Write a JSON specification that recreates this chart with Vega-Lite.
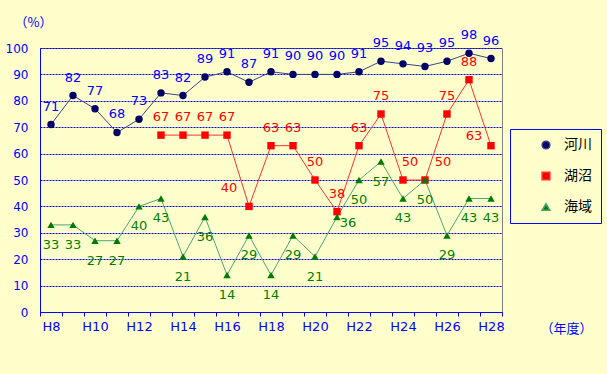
{
  "$schema": "https://vega.github.io/schema/vega-lite/v6.json",
  "width": 462,
  "height": 264,
  "autosize": {"type": "none"},
  "padding": {"left": 40, "top": 48, "right": 105, "bottom": 62},
  "background": "#ffffcc",
  "config": {
    "view": {"stroke": "#808080", "strokeWidth": 1, "fill": "#ffffcc"},
    "font": "DejaVu Sans"
  },
  "data": {
    "values": [
      {"year": "H8", "series": "河川", "value": 71},
      {"year": "H9", "series": "河川", "value": 82},
      {"year": "H10", "series": "河川", "value": 77},
      {"year": "H11", "series": "河川", "value": 68},
      {"year": "H12", "series": "河川", "value": 73},
      {"year": "H13", "series": "河川", "value": 83},
      {"year": "H14", "series": "河川", "value": 82},
      {"year": "H15", "series": "河川", "value": 89},
      {"year": "H16", "series": "河川", "value": 91},
      {"year": "H17", "series": "河川", "value": 87},
      {"year": "H18", "series": "河川", "value": 91},
      {"year": "H19", "series": "河川", "value": 90},
      {"year": "H20", "series": "河川", "value": 90},
      {"year": "H21", "series": "河川", "value": 90},
      {"year": "H22", "series": "河川", "value": 91},
      {"year": "H23", "series": "河川", "value": 95},
      {"year": "H24", "series": "河川", "value": 94},
      {"year": "H25", "series": "河川", "value": 93},
      {"year": "H26", "series": "河川", "value": 95},
      {"year": "H27", "series": "河川", "value": 98},
      {"year": "H28", "series": "河川", "value": 96},
      {"year": "H13", "series": "湖沼", "value": 67},
      {"year": "H14", "series": "湖沼", "value": 67},
      {"year": "H15", "series": "湖沼", "value": 67},
      {"year": "H16", "series": "湖沼", "value": 67},
      {"year": "H17", "series": "湖沼", "value": 40},
      {"year": "H18", "series": "湖沼", "value": 63},
      {"year": "H19", "series": "湖沼", "value": 63},
      {"year": "H20", "series": "湖沼", "value": 50},
      {"year": "H21", "series": "湖沼", "value": 38},
      {"year": "H22", "series": "湖沼", "value": 63},
      {"year": "H23", "series": "湖沼", "value": 75},
      {"year": "H24", "series": "湖沼", "value": 50},
      {"year": "H25", "series": "湖沼", "value": 50},
      {"year": "H26", "series": "湖沼", "value": 75},
      {"year": "H27", "series": "湖沼", "value": 88},
      {"year": "H28", "series": "湖沼", "value": 63},
      {"year": "H8", "series": "海域", "value": 33},
      {"year": "H9", "series": "海域", "value": 33},
      {"year": "H10", "series": "海域", "value": 27},
      {"year": "H11", "series": "海域", "value": 27},
      {"year": "H12", "series": "海域", "value": 40},
      {"year": "H13", "series": "海域", "value": 43},
      {"year": "H14", "series": "海域", "value": 21},
      {"year": "H15", "series": "海域", "value": 36},
      {"year": "H16", "series": "海域", "value": 14},
      {"year": "H17", "series": "海域", "value": 29},
      {"year": "H18", "series": "海域", "value": 14},
      {"year": "H19", "series": "海域", "value": 29},
      {"year": "H20", "series": "海域", "value": 21},
      {"year": "H21", "series": "海域", "value": 36},
      {"year": "H22", "series": "海域", "value": 50},
      {"year": "H23", "series": "海域", "value": 57},
      {"year": "H24", "series": "海域", "value": 43},
      {"year": "H25", "series": "海域", "value": 50},
      {"year": "H26", "series": "海域", "value": 29},
      {"year": "H27", "series": "海域", "value": 43},
      {"year": "H28", "series": "海域", "value": 43}
    ]
  },
  "encoding": {
    "x": {
      "field": "year",
      "type": "ordinal",
      "scale": {
        "type": "band",
        "domain": ["H8","H9","H10","H11","H12","H13","H14","H15","H16","H17","H18","H19","H20","H21","H22","H23","H24","H25","H26","H27","H28"],
        "paddingInner": 0,
        "paddingOuter": 0
      },
      "axis": {
        "title": "（年度）",
        "titleX": 526,
        "titleY": 16,
        "titleAlign": "center",
        "titleBaseline": "middle",
        "titleColor": "#0000ff",
        "titleFont": "Noto Sans CJK JP",
        "titleFontSize": 13,
        "titleFontWeight": "normal",
        "labelExpr": "indexof(['H8','H10','H12','H14','H16','H18','H20','H22','H24','H26','H28'], datum.value) >= 0 ? datum.value : ''",
        "labelAngle": 0,
        "labelColor": "#0000ff",
        "labelFontSize": 13,
        "labelPadding": 4,
        "tickBand": "extent",
        "tickSize": 4,
        "tickColor": "#0000ff",
        "domainColor": "#0000ff",
        "grid": false
      }
    },
    "y": {
      "field": "value",
      "type": "quantitative",
      "scale": {"domain": [0, 100], "nice": false},
      "axis": {
        "title": "（%）",
        "titleAngle": 0,
        "titleX": -7,
        "titleY": -26,
        "titleAlign": "center",
        "titleBaseline": "middle",
        "titleColor": "#0000ff",
        "titleFont": "Noto Sans CJK JP",
        "titleFontSize": 13,
        "titleFontWeight": "normal",
        "values": [0, 10, 20, 30, 40, 50, 60, 70, 80, 90, 100],
        "ticks": false,
        "labelPadding": 12,
        "labelColor": "#0000ff",
        "labelFontSize": 12,
        "domainColor": "#0000ff",
        "grid": true,
        "gridColor": "#0000ff",
        "gridDash": [2, 1],
        "gridWidth": 1
      }
    }
  },
  "layer": [
    {
      "mark": {"type": "line", "strokeWidth": 1},
      "encoding": {
        "color": {
          "field": "series",
          "type": "nominal",
          "scale": {"domain": ["河川", "湖沼", "海域"], "range": ["#404088", "#ff3030", "#4aa57a"]},
          "legend": {
            "title": null,
            "orient": "none",
            "legendX": 470,
            "legendY": 81,
            "strokeColor": "#0000ff",
            "fillColor": "#ffffcc",
            "padding": 9,
            "symbolSize": 60,
            "rowPadding": 17,
            "symbolOffset": 20,
            "labelOffset": 11,
            "labelFont": "Noto Sans CJK JP",
            "labelFontSize": 14,
            "labelColor": "#000000"
          }
        }
      }
    },
    {
      "mark": {"type": "point", "filled": true, "opacity": 1, "size": 55},
      "encoding": {
        "shape": {
          "field": "series",
          "type": "nominal",
          "scale": {"domain": ["河川", "湖沼", "海域"], "range": ["circle", "square", "triangle-up"]},
          "legend": null
        },
        "fill": {
          "field": "series",
          "type": "nominal",
          "scale": {"domain": ["河川", "湖沼", "海域"], "range": ["#000066", "#ff0000", "#007a00"]},
          "legend": null
        }
      }
    },
    {
      "transform": [{"filter": "datum.series === '河川'"}],
      "mark": {"type": "text", "dy": -18, "fontSize": 13, "color": "#0000ff"},
      "encoding": {"text": {"field": "value", "type": "quantitative"}}
    },
    {
      "transform": [{"filter": "datum.series === '湖沼' && indexof(['H17','H24','H25','H28'], datum.year) < 0"}],
      "mark": {"type": "text", "dy": -18, "fontSize": 13, "color": "#ff0000"},
      "encoding": {"text": {"field": "value", "type": "quantitative"}}
    },
    {
      "transform": [{"filter": "datum.series === '湖沼' && datum.year === 'H17'"}],
      "mark": {"type": "text", "dx": -20, "dy": -18, "fontSize": 13, "color": "#ff0000"},
      "encoding": {"text": {"field": "value", "type": "quantitative"}}
    },
    {
      "transform": [{"filter": "datum.series === '湖沼' && datum.year === 'H28'"}],
      "mark": {"type": "text", "dx": -17, "dy": -10, "fontSize": 13, "color": "#ff0000"},
      "encoding": {"text": {"field": "value", "type": "quantitative"}}
    },
    {
      "transform": [{"filter": "datum.series === '湖沼' && datum.year === 'H24'"}],
      "mark": {"type": "text", "dx": 7, "dy": -18, "fontSize": 13, "color": "#ff0000"},
      "encoding": {"text": {"field": "value", "type": "quantitative"}}
    },
    {
      "transform": [{"filter": "datum.series === '湖沼' && datum.year === 'H25'"}],
      "mark": {"type": "text", "dx": 18, "dy": -18, "fontSize": 13, "color": "#ff0000"},
      "encoding": {"text": {"field": "value", "type": "quantitative"}}
    },
    {
      "transform": [{"filter": "datum.series === '海域' && datum.year !== 'H21'"}],
      "mark": {"type": "text", "dy": 20, "fontSize": 13, "color": "#008000"},
      "encoding": {"text": {"field": "value", "type": "quantitative"}}
    },
    {
      "transform": [{"filter": "datum.series === '海域' && datum.year === 'H21'"}],
      "mark": {"type": "text", "dx": 11, "dy": 6, "fontSize": 13, "color": "#008000"},
      "encoding": {"text": {"field": "value", "type": "quantitative"}}
    }
  ]
}
